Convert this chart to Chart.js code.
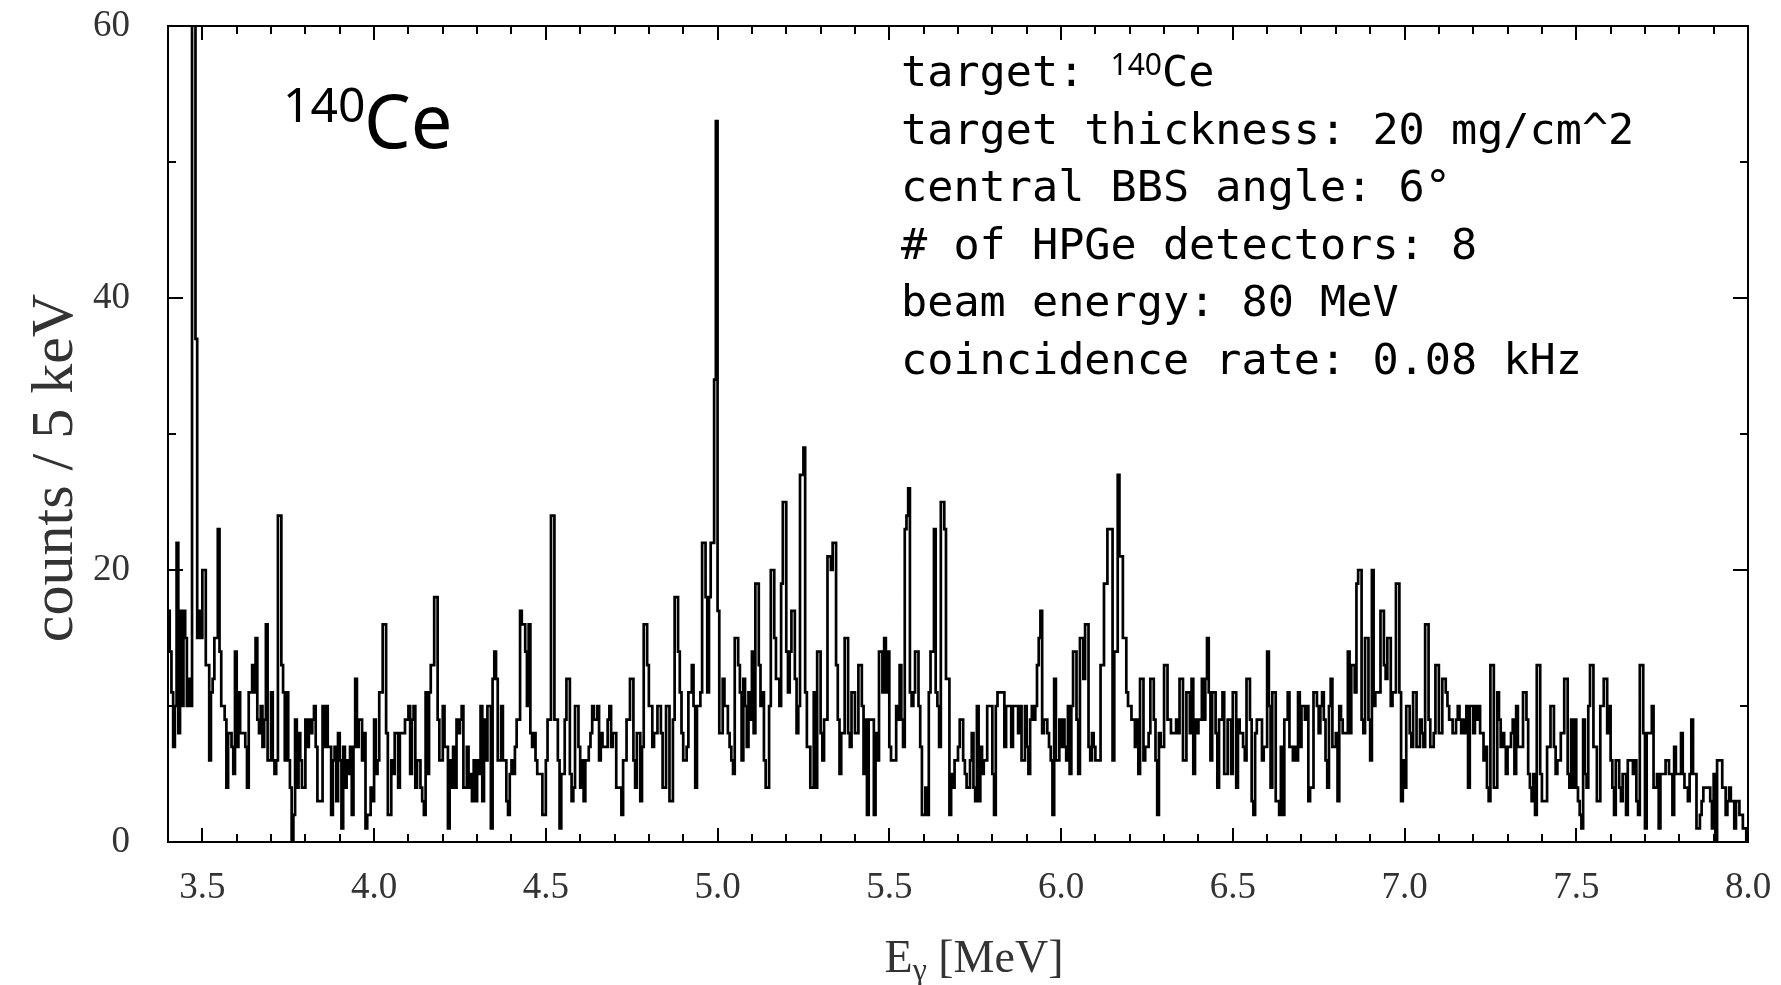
<!DOCTYPE html>
<html>
<head>
<meta charset="utf-8">
<title>140Ce gamma spectrum</title>
<script src="https://cdn.jsdelivr.net/npm/chart.js@4.4.0/dist/chart.umd.min.js"></script>
<style>
  body { margin: 0; background: #fff; }
  #wrap { width: 1781px; height: 985px; }
</style>
</head>
<body>
<div id="wrap"><canvas id="spectrum" width="1781" height="985"></canvas></div>
<script>
// histogram: 5 keV bins, first bin starts at 3.4 MeV
var binStart = 3.4;
var binWidth = 0.005;

// counts per bin (10 bins = 50 keV per row)
var counts = [
  17,14,11,7,10,22,8,17,10,17,   15,10,12,10,70,68,37,15,17,15,
  20,20,13,13,6,11,12,15,15,23,   14,10,10,9,4,8,8,7,5,14,
  7,11,8,8,8,7,4,11,11,13,        11,15,9,8,10,7,9,16,6,6,
  11,6,5,6,24,24,13,11,6,11,      6,4,0,2,9,4,8,6,4,4,
  9,7,9,8,9,10,7,3,3,3,           10,7,10,7,7,2,6,7,3,8,
  6,1,7,4,6,5,7,2,7,12,           7,9,9,6,8,1,2,2,4,3,
  9,5,6,11,11,16,16,8,2,2,        6,5,8,8,4,8,8,8,9,9,
  10,5,9,10,4,6,6,4,3,2,          11,5,11,13,13,18,18,9,6,6,
  10,7,7,1,6,4,7,4,9,8,           9,10,4,4,7,4,5,3,6,3,
  6,5,10,3,9,6,10,10,1,12,        14,12,6,6,10,6,6,3,2,5,
  6,5,7,9,9,17,16,16,14,10,       16,8,7,8,6,5,5,5,2,2,
  6,9,9,24,24,9,9,6,1,5,          5,9,12,12,5,3,4,10,10,7,
  4,6,3,6,6,7,8,10,9,9,           10,6,8,7,7,7,9,10,7,8,
  8,4,4,4,2,6,6,9,9,12,           12,6,4,8,8,3,7,16,16,13,
  10,10,7,8,8,10,10,8,4,4,        10,10,3,3,9,18,18,14,11,8,
  6,6,7,11,11,13,10,4,10,10,      11,22,22,18,11,18,22,22,34,53,
  17,8,8,12,10,10,8,7,6,5,        15,15,13,11,6,12,10,7,11,9,
  14,8,19,19,13,10,11,6,4,4,      10,20,20,15,12,12,10,19,25,25,
  14,11,14,17,17,12,8,10,27,27,   29,11,7,7,4,4,11,4,14,14,
  8,6,9,9,21,21,20,22,22,13,      9,5,8,8,15,15,8,7,11,11,
  8,8,13,13,10,5,9,2,9,9,         9,2,8,6,14,14,11,15,11,14,
  7,6,6,6,10,9,13,9,7,23,         24,26,11,10,11,14,14,10,7,2,
  2,4,2,11,14,14,23,11,10,7,      25,25,23,12,12,2,5,4,6,6,
  7,9,9,6,5,4,4,6,8,4,            3,10,3,7,5,6,6,10,10,10,
  5,2,10,11,11,11,11,7,10,10,     10,7,10,10,10,8,10,6,6,10,
  7,5,9,10,9,10,13,15,17,8,       9,9,8,7,6,2,12,6,6,9,
  7,9,7,6,10,5,10,14,14,9,        5,15,15,12,16,16,7,6,8,7,
  6,6,6,13,13,19,19,23,23,23,     6,14,14,27,21,21,15,15,11,10,
  10,9,9,7,9,5,12,12,6,7,         7,8,12,12,9,6,2,8,7,7,
  13,13,9,9,8,8,8,9,8,12,         12,6,6,11,11,8,12,5,9,8,
  9,9,12,9,12,15,11,6,11,11,      8,4,9,9,11,5,5,9,9,5,
  11,11,4,9,8,8,7,6,12,12,        9,3,2,8,9,9,9,6,7,7,
  14,10,4,11,11,3,3,2,7,2,        9,9,11,7,7,6,7,6,11,7,
  10,10,9,10,3,4,4,11,11,10,      8,10,11,9,6,4,10,12,7,7,
  8,3,10,9,8,8,8,14,8,13,         13,11,19,20,20,9,8,15,15,9,
  6,20,10,11,11,11,17,17,13,12,   15,15,10,11,11,19,19,11,3,6,
  4,10,10,8,7,11,11,7,7,9,        8,7,16,16,9,7,7,8,13,13,
  8,8,12,12,11,10,9,9,8,8,        9,10,9,8,9,8,10,4,10,10,
  8,10,9,10,8,8,6,7,4,3,          13,13,4,4,11,9,7,8,7,5,
  7,7,8,9,5,10,7,7,7,11,          11,9,5,4,3,5,2,13,13,5,
  3,3,3,7,7,10,10,7,5,6,          6,8,8,12,12,5,4,9,4,9,
  4,3,2,1,9,5,4,10,13,13,         7,7,3,3,10,10,12,12,8,10,
  6,4,2,6,6,4,3,5,5,2,            6,6,6,5,6,3,2,13,13,8,
  1,8,8,8,10,4,4,5,1,5,           5,5,6,6,5,5,2,7,5,5,
  5,8,5,4,4,3,5,9,5,5,            1,1,2,3,4,4,4,4,3,1,
  5,0,6,6,6,4,4,2,3,4,            3,3,1,3,3,2,2,1,1,0
];

var xTicks = [3.5, 4.0, 4.5, 5.0, 5.5, 6.0, 6.5, 7.0, 7.5, 8.0];
var yTicks = [0, 20, 40, 60];

var infoLines = [
  'target: ',
  'target thickness: 20 mg/cm^2',
  'central BBS angle: 6\u00b0',
  '# of HPGe detectors: 8',
  'beam energy: 80 MeV',
  'coincidence rate: 0.08 kHz'
];

// step points: left edge of every bin, plus the right edge of the last one
var points = counts.map(function(c, i) {
  return { x: binStart + i * binWidth, y: c };
});
points.push({ x: binStart + counts.length * binWidth, y: counts[counts.length - 1] });

// box frame with inward ticks on all four sides
var frameTicks = {
  id: 'frameTicks',
  afterDatasetsDraw: function(chart) {
    var ctx = chart.ctx, a = chart.chartArea;
    var xs = chart.scales.x, ys = chart.scales.y;
    ctx.save();
    ctx.strokeStyle = '#000';
    ctx.lineWidth = 2;
    ctx.strokeRect(a.left, a.top, a.right - a.left, a.bottom - a.top);
    ctx.beginPath();
    for (var k = 0; k <= 46; k++) {
      var v = Math.round((3.4 + k * 0.1) * 10) / 10;
      var px = Math.round(xs.getPixelForValue(v));
      var len = (k % 5 === 1) ? 14 : 8;
      ctx.moveTo(px, a.bottom); ctx.lineTo(px, a.bottom - len);
      ctx.moveTo(px, a.top); ctx.lineTo(px, a.top + len);
    }
    for (var j = 0; j <= 6; j++) {
      var py = Math.round(ys.getPixelForValue(j * 10));
      var l2 = (j % 2 === 0) ? 15 : 8;
      ctx.moveTo(a.left, py); ctx.lineTo(a.left + l2, py);
      ctx.moveTo(a.right, py); ctx.lineTo(a.right - l2, py);
    }
    ctx.stroke();
    ctx.restore();
  }
};

// axis titles and the text annotations
var labelsPlugin = {
  id: 'labelsPlugin',
  afterDraw: function(chart) {
    var ctx = chart.ctx, a = chart.chartArea;
    ctx.save();
    ctx.fillStyle = '#333';
    ctx.textBaseline = 'alphabetic';

    // x title: E_gamma [MeV]
    var big = '46px "Liberation Serif"', small = '32px "Liberation Serif"';
    ctx.font = big;
    var wE = ctx.measureText('E').width;
    var wR = ctx.measureText(' [MeV]').width;
    ctx.font = small;
    var wG = ctx.measureText('\u03b3').width;
    var x0 = (a.left + a.right) / 2 + 16 - (wE + wG + wR) / 2;
    var yb = 972;
    ctx.font = big;
    ctx.fillText('E', x0, yb);
    ctx.font = small;
    ctx.fillText('\u03b3', x0 + wE, yb + 8);
    ctx.font = big;
    ctx.fillText(' [MeV]', x0 + wE + wG, yb);

    // y title
    ctx.save();
    ctx.translate(56, 468);
    ctx.rotate(-Math.PI / 2);
    ctx.textAlign = 'center';
    ctx.textBaseline = 'middle';
    ctx.font = '60px "Liberation Serif"';
    ctx.fillText('counts / 5 keV', 0, 0);
    ctx.restore();

    // big nucleus label
    ctx.fillStyle = '#000';
    ctx.font = '48px "Noto Sans"';
    ctx.fillText('140', 283, 122);
    ctx.font = '74px "Noto Sans"';
    ctx.fillText('Ce', 364, 148);

    // run info block
    ctx.font = '43.5px "DejaVu Sans Mono"';
    var tx = 901, ty = 86, step = 57.5;
    infoLines.forEach(function(line, i) {
      ctx.fillText(line, tx, ty + i * step);
    });
    var wT = ctx.measureText(infoLines[0]).width;
    ctx.font = '30px "Noto Sans"';
    ctx.fillText('140', tx + wT, 75);
    var wS = ctx.measureText('140').width;
    ctx.font = '43.5px "DejaVu Sans Mono"';
    ctx.fillText('Ce', tx + wT + wS, ty);
    ctx.restore();
  }
};

var tickFont = { family: 'Liberation Serif', size: 37 };

new Chart(document.getElementById('spectrum'), {
  type: 'line',
  data: {
    datasets: [{
      data: points,
      stepped: 'before',
      borderColor: '#000',
      borderWidth: 2.7,
      pointRadius: 0,
      fill: false,
      tension: 0
    }]
  },
  options: {
    responsive: false,
    animation: false,
    layout: { padding: { left: 0, right: 33, top: 26, bottom: 0 } },
    plugins: {
      legend: { display: false },
      tooltip: { enabled: false }
    },
    scales: {
      x: {
        type: 'linear',
        min: 3.4,
        max: 8.0,
        afterBuildTicks: function(s) { s.ticks = xTicks.map(function(v) { return { value: v }; }); },
        afterFit: function(s) {
          s.height = 143;
          s.paddingLeft = 0;
          s.paddingRight = 0;
        },
        grid: { display: false },
        border: { display: false },
        ticks: {
          padding: 16,
          color: '#333',
          font: tickFont,
          maxRotation: 0,
          autoSkip: false,
          callback: function(v) { return v.toFixed(1); }
        }
      },
      y: {
        min: 0,
        max: 60,
        afterBuildTicks: function(s) { s.ticks = yTicks.map(function(v) { return { value: v }; }); },
        afterFit: function(s) {
          s.width = 168;
          s.paddingTop = 0;
          s.paddingBottom = 0;
        },
        grid: { display: false },
        border: { display: false },
        ticks: {
          padding: 30,
          color: '#333',
          font: tickFont
        }
      }
    }
  },
  plugins: [frameTicks, labelsPlugin]
});
</script>
</body>
</html>
